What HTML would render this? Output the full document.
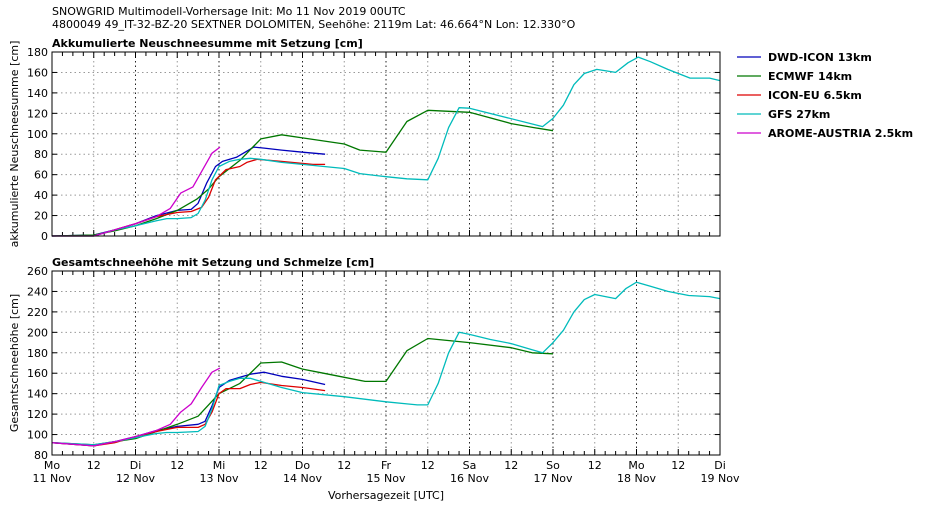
<!DOCTYPE html>
<html><head><meta charset="utf-8">
<style>
html,body{margin:0;padding:0;background:#fff;}
svg{display:block;font-family:"DejaVu Sans","Liberation Sans",sans-serif;}
</style></head>
<body>
<svg id="chart" width="926" height="510" viewBox="0 0 926 510" xmlns="http://www.w3.org/2000/svg">
<text x="52" y="15" font-size="11">SNOWGRID Multimodell-Vorhersage Init: Mo 11 Nov 2019 00UTC</text>
<text x="52" y="28" font-size="11">4800049 49_IT-32-BZ-20 SEXTNER DOLOMITEN, Seehöhe: 2119m Lat: 46.664°N Lon: 12.330°O</text>
<text x="52" y="47" font-size="11" font-weight="bold">Akkumulierte Neuschneesumme mit Setzung [cm]</text>
<text x="52" y="266" font-size="11" font-weight="bold">Gesamtschneehöhe mit Setzung und Schmelze [cm]</text>
<text transform="translate(18,144) rotate(-90)" text-anchor="middle" font-size="11">akkumulierte Neuschneesumme [cm]</text>
<text transform="translate(18,363) rotate(-90)" text-anchor="middle" font-size="11">Gesamtschneehöhe [cm]</text>
<text x="386" y="499" text-anchor="middle" font-size="11">Vorhersagezeit [UTC]</text>
<g id="top"></g>
<g id="bottom"></g>
<g id="legend"></g>
</svg>
<script>
const models = ["DWD-ICON 13km","ECMWF 14km","ICON-EU 6.5km","GFS 27km","AROME-AUSTRIA 2.5km"];
const colors = ["#0000bb","#007700","#dd0000","#00bbbb","#cc00cc"];
const xTickLabels = ["Mo","12","Di","12","Mi","12","Do","12","Fr","12","Sa","12","So","12","Mo","12","Di"];
const xTickDates = ["11 Nov","","12 Nov","","13 Nov","","14 Nov","","15 Nov","","16 Nov","","17 Nov","","18 Nov","","19 Nov"];
const topTicks = [0,20,40,60,80,100,120,140,160,180];
const bottomTicks = [80,100,120,140,160,180,200,220,240,260];
// [hour, value]
const topDWD = [[0,0],[12,1],[18,6],[24,12],[30,20],[36,25],[40,26],[42,32],[44.5,52],[47,68],[49,73],[53,77],[58,87],[61,86],[66,84],[72,82],[78.5,80]];
const topECMWF = [[0,0],[12,1],[18,5],[24,10],[30,17],[36,25],[41.6,36],[45,46],[48,58],[54,74],[60,95],[66,99],[72,96],[84,90],[88.5,84],[96,82],[102,112],[108,123],[120,121],[132,110],[138.5,106],[144,103]];
const topICONEU = [[0,0],[12,0],[18,6],[24,12],[30,19],[36,23],[40,24],[43,28],[45,38],[47,55],[50,65],[54,68],[56,72],[59,75],[66,73],[72,71],[75,70],[78.5,70]];
const topGFS = [[0,0],[12,0],[18,6],[24,10],[30,15],[33,17],[36,17],[40,18],[42,22],[44,35],[46,55],[48,68],[51,73],[54,75],[57,76],[60,75],[66,72],[72,70],[84,66],[88.5,61],[96,58],[102,56],[108,55],[111,76],[114,106],[117,125.5],[120,125],[141,107],[144,115],[147,128],[150,148],[153,159],[156.6,163],[162,160],[165.6,169.5],[168.5,175],[172,170.5],[177,163],[183.4,154.5],[189,154.5],[192,152]];
const topAROME = [[0,0],[12,0],[18,6],[24,12],[30,19],[34,27],[37,42],[40.5,48],[43,63],[46,81],[48.3,87]];
const botDWD = [[0,92],[12,89],[18,93],[24,98],[30,104],[36,108],[42,110],[44,113],[46,128],[48,146],[51,153],[54,156],[57,159],[61,161],[66,157],[72,154],[78.5,149]];
const botECMWF = [[0,92],[12,90],[18,93],[24,96],[30,103],[36,110],[42,118],[48,140],[54,150],[60,170],[66,171],[72,164],[78,160],[84,156],[90,152],[96,152],[102,182],[108,194],[120,190],[132,185],[138,180],[144,179]];
const botICONEU = [[0,92],[12,89],[18,92],[24,98],[30,103],[36,107],[42,107],[44,110],[46,122],[48,140],[50,145],[54,145],[57,149],[60,151],[66,148],[72,146],[78.5,143]];
const botGFS = [[0,92],[12,90],[18,93],[24,97],[30,101],[33,102],[36,102],[42,103],[44,108],[46,125],[48,148],[51,152],[54,155],[57,155],[60,152],[66,146],[72,141],[84,137],[96,132],[102,130],[105,129],[108,129],[111,150],[114,180],[117,200],[120,198],[126,193],[132,189],[138,183],[141,180],[144,190],[147,202],[150,220],[153,232],[156,237],[162,233],[165,243],[168,249],[172,245],[177,240],[183,236],[189,235],[192,233]];
const botAROME = [[0,92],[12,89],[18,93],[24,98],[30,104],[34,110],[37,122],[40,130],[43,146],[46,161],[48.3,165]];

const NS="http://www.w3.org/2000/svg";
const X0=52,X1=720,HMAX=192;
const xs=h=>X0+h*(X1-X0)/HMAX;
function mk(t,a,p){const e=document.createElementNS(NS,t);for(const k in a)e.setAttribute(k,a[k]);p.appendChild(e);return e;}

function panel(g,y0,y1,vmin,vmax,ticks,series,showX,prefix){
  const ys=v=>y1-(v-vmin)*(y1-y0)/(vmax-vmin);
  // grid y
  ticks.forEach(t=>{
    if(t===vmin||t===vmax)return;
    const l=mk('line',{x1:X0,x2:X1,y1:ys(t),y2:ys(t),stroke:'#999','stroke-dasharray':'1.5,3','stroke-width':1},g);
    
    
  });
  // grid x
  for(let i=1;i<16;i++){
    const mid=i%2===0;
    const l=mk('line',{x1:xs(i*12),x2:xs(i*12),y1:y0,y2:y1,stroke:mid?'#222':'#999','stroke-dasharray':'1.5,3','stroke-width':1},g);
    
    
  }
  // minor x ticks
  for(let h=3;h<HMAX;h+=3){
    mk('line',{x1:xs(h),x2:xs(h),y1:y1,y2:y1-(h%12===0?6:4),stroke:'#000','stroke-width':1},g);
    mk('line',{x1:xs(h),x2:xs(h),y1:y0,y2:y0+(h%12===0?6:4),stroke:'#000','stroke-width':1},g);
  }
  // y ticks & labels
  ticks.forEach(t=>{
    mk('line',{x1:X0,x2:X0+5,y1:ys(t),y2:ys(t),stroke:'#000'},g);
    mk('line',{x1:X1,x2:X1-5,y1:ys(t),y2:ys(t),stroke:'#000'},g);
    const tx=mk('text',{x:X0-4,y:ys(t)+4,'text-anchor':'end','font-size':11},g);
    tx.textContent=t;
    
    
  });
  // series
  series.forEach((s,i)=>{
    const p=mk('polyline',{points:s.map(d=>xs(d[0]).toFixed(1)+','+ys(d[1]).toFixed(1)).join(' '),fill:'none',stroke:colors[i],'stroke-width':1.3,'stroke-linejoin':'round'},g);
    
    
  });
  const fr=mk('rect',{x:X0,y:y0,width:X1-X0,height:y1-y0,fill:'none',stroke:'#000','stroke-width':1},g);
  
  
  if(showX){
    xTickLabels.forEach((lb,i)=>{
      const x=xs(i*12);
      const t=mk('text',{x:x,y:y1+14,'text-anchor':'middle','font-size':11},g);
      t.textContent=lb;
      
      
      if(xTickDates[i]){
        const d=mk('text',{x:x,y:y1+27,'text-anchor':'middle','font-size':11},g);
        d.textContent=xTickDates[i];
        
        
      }
    });
  }
}
panel(document.getElementById('top'),52,236,0,180,topTicks,[topDWD,topECMWF,topICONEU,topGFS,topAROME],false,'top');
panel(document.getElementById('bottom'),271,455,80,260,bottomTicks,[botDWD,botECMWF,botICONEU,botGFS,botAROME],true,'bottom');

const lg=document.getElementById('legend');
models.forEach((m,i)=>{
  const y=57+i*19;
  const it=mk('g',{},lg);
  
  
  mk('line',{x1:737,x2:761,y1:y,y2:y,stroke:colors[i],'stroke-width':1.3},it);
  const t=mk('text',{x:768,y:y+4,'font-size':11,'font-weight':'bold'},it);
  t.textContent=m;
});
</script>
</body></html>
